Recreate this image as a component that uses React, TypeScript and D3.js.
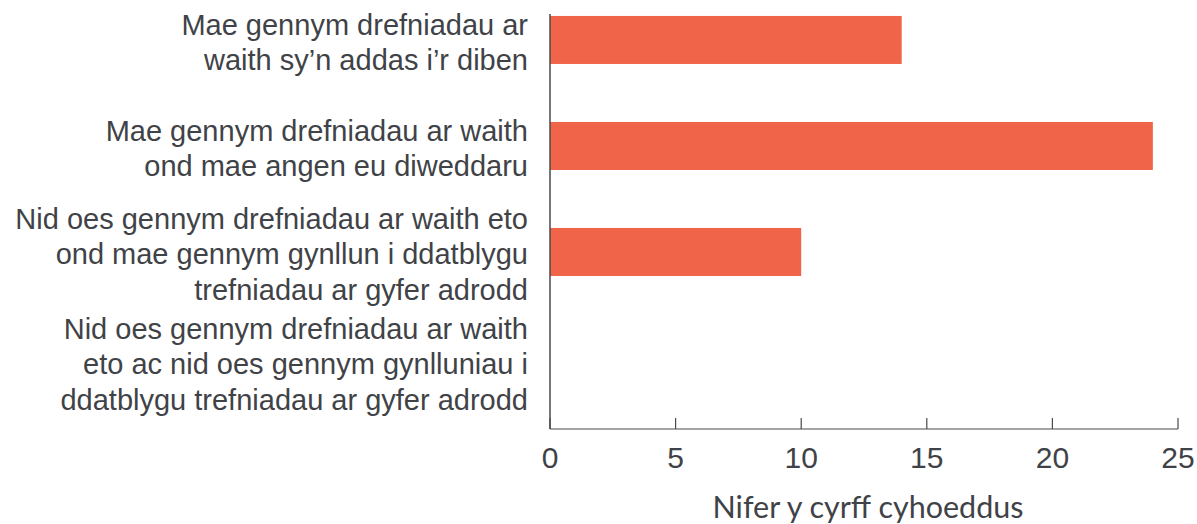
import React, { useRef, useEffect } from 'react';
import * as d3 from 'd3';

const categories = [
  ['Mae gennym drefniadau ar', 'waith sy’n addas i’r diben'],
  ['Mae gennym drefniadau ar waith', 'ond mae angen eu diweddaru'],
  ['Nid oes gennym drefniadau ar waith eto', 'ond mae gennym gynllun i ddatblygu', 'trefniadau ar gyfer adrodd'],
  ['Nid oes gennym drefniadau ar waith', 'eto ac nid oes gennym gynlluniau i', 'ddatblygu trefniadau ar gyfer adrodd'],
];
const values = [14, 24, 10, 0];
const xTicks = [0, 5, 10, 15, 20, 25];
const xTitle = 'Nifer y cyrff cyhoeddus';

const width = 1197;
const height = 524;
const textColor = '#3f4347';

const App = () => {
  const ref = useRef<SVGSVGElement | null>(null);

  useEffect(() => {
    const svg = d3.select(ref.current);
    svg.selectAll('*').remove();

    const left = 550;
    const right = 1178;
    const top = 14;
    const bottom = 429;

    const x = d3.scaleLinear().domain([0, 25]).range([left, right]);
    const y = d3.scaleBand<number>()
      .domain(d3.range(categories.length))
      .range([top, bottom])
      .paddingInner(0.547)
      .paddingOuter(0.231)
      .align(0.04);

    svg.append('g')
      .selectAll('rect')
      .data(values)
      .enter()
      .append('rect')
      .attr('x', x(0))
      .attr('y', (d, i) => y(i)!)
      .attr('width', d => x(d) - x(0))
      .attr('height', y.bandwidth())
      .attr('fill', '#f0654a');

    // category labels, right aligned against the axis
    const labels = svg.append('g')
      .attr('font-family', '"Liberation Sans", Arial, sans-serif')
      .attr('font-size', 29)
      .attr('fill', textColor)
      .attr('text-anchor', 'end');
    const lineH = 35.5;
    categories.forEach((lines, i) => {
      const cy = y(i)! + y.bandwidth() / 2;
      const first = cy - ((lines.length - 1) * lineH) / 2 + 12.5 + (i === 3 ? 4 : 0);
      const t = labels.append('text');
      lines.forEach((l, j) => {
        t.append('tspan')
          .attr('x', left - 22)
          .attr('y', first + j * lineH)
          .text(l);
      });
    });

    // axis lines
    svg.append('line')
      .attr('x1', left).attr('x2', left)
      .attr('y1', top).attr('y2', bottom)
      .attr('stroke', '#4a4a4a').attr('stroke-width', 1.5);
    svg.append('line')
      .attr('x1', left).attr('x2', right)
      .attr('y1', bottom).attr('y2', bottom)
      .attr('stroke', '#4a4a4a').attr('stroke-width', 1.2);

    const ticks = svg.append('g');
    ticks.selectAll('line')
      .data(xTicks)
      .enter()
      .append('line')
      .attr('x1', d => x(d)).attr('x2', d => x(d))
      .attr('y1', bottom - 11).attr('y2', bottom)
      .attr('stroke', '#4a4a4a').attr('stroke-width', 1.2);
    ticks.selectAll('text')
      .data(xTicks)
      .enter()
      .append('text')
      .attr('x', d => x(d))
      .attr('y', 468)
      .attr('text-anchor', 'middle')
      .attr('font-family', '"Liberation Sans", Arial, sans-serif')
      .attr('font-size', 30)
      .attr('fill', textColor)
      .text(d => d);

    svg.append('text')
      .attr('x', (left + right) / 2 + 4)
      .attr('y', 518)
      .attr('text-anchor', 'middle')
      .attr('font-family', 'Lato, sans-serif')
      .attr('font-size', 30.5)
      .attr('fill', textColor)
      .text(xTitle);
  }, []);

  return (
    <svg
      ref={ref}
      width={width}
      height={height}
      style={{ position: 'absolute', left: 0, top: 0, background: '#fff' }}
    />
  );
};

export default App;
